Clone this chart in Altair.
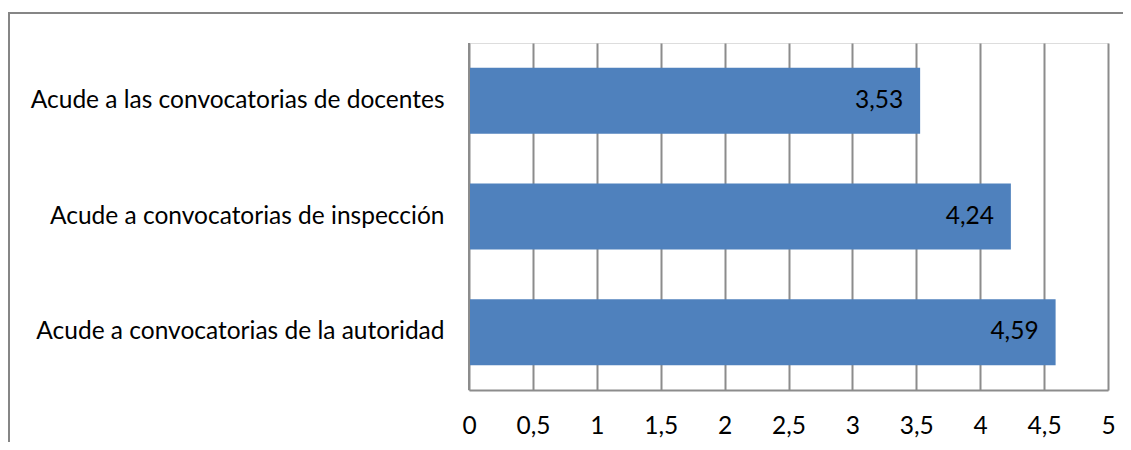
import altair as alt
import pandas as pd

categories = [
    "Acude a las convocatorias de docentes",
    "Acude a convocatorias de inspección",
    "Acude a convocatorias de la autoridad",
]
values = [3.53, 4.24, 4.59]
value_labels = ["3,53", "4,24", "4,59"]
x_ticks = [0, 0.5, 1, 1.5, 2, 2.5, 3, 3.5, 4, 4.5, 5]

df = pd.DataFrame({"cat": categories, "val": values, "lab": value_labels})

FONT = "Lato"
FS = 24.5
GRID = "#8c8c8c"

y_enc = alt.Y(
    "cat:N",
    sort=categories,
    title=None,
    scale=alt.Scale(paddingInner=0.43, paddingOuter=0.215),
    axis=alt.Axis(
        domain=False, ticks=False, labelPadding=25, labelFont=FONT,
        labelFontSize=FS, labelColor="#000000", labelLimit=600, grid=False,
    ),
)
x_enc = alt.X(
    "val:Q",
    title=None,
    scale=alt.Scale(domain=[0, 5], nice=False),
    axis=alt.Axis(
        values=x_ticks, grid=True, gridColor=GRID, gridWidth=2, gridOpacity=1,
        domain=True, domainColor=GRID, domainWidth=2, ticks=False,
        labelPadding=24, labelFont=FONT, labelFontSize=FS, labelColor="#000000",
        labelExpr="replace(format(datum.value, ''), '.', ',')",
        labelFlush=False,
    ),
)

bars = alt.Chart(df).mark_bar(color="#4F81BD").encode(x=x_enc, y=y_enc)

texts = alt.Chart(df).mark_text(
    align="right", baseline="middle", dx=-17, font=FONT, fontSize=FS, color="#000000"
).encode(x="val:Q", y=alt.Y("cat:N", sort=categories), text="lab:N")

frame = alt.Chart(df).mark_rect(
    fill=None, stroke="#868686", strokeWidth=2
).encode(
    x=alt.value(-460), x2=alt.value(700), y=alt.value(-30), y2=alt.value(500)
)

left_line = alt.Chart(df).mark_rule(color=GRID, strokeWidth=2).encode(
    x=alt.value(0), y=alt.value(0), y2=alt.value(347)
)

chart = alt.layer(frame, bars, left_line, texts).properties(
    width=639,
    height=347,
    autosize=alt.AutoSizeParams(type="none"),
    padding={"left": 461, "top": 35, "right": 15, "bottom": 52},
).configure_view(stroke=None).configure(background="white")

chart.save("out.html", embed_options={"renderer": "svg", "actions": False})
